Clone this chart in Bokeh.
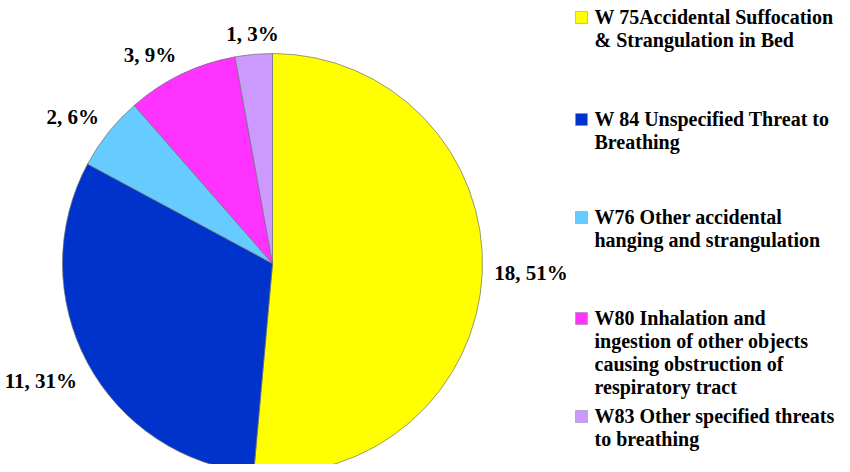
import math
from bokeh.plotting import figure
from bokeh.models import Range1d, ColumnDataSource
from bokeh.core.properties import value
from bokeh.embed import file_html
from bokeh.resources import INLINE

# ---- data ----
categories = [
    "W 75Accidental Suffocation\n& Strangulation in Bed",
    "W 84 Unspecified Threat to\nBreathing",
    "W76 Other accidental\nhanging and strangulation",
    "W80 Inhalation and\ningestion of other objects\ncausing obstruction of\nrespiratory tract",
    "W83 Other specified threats\nto breathing",
]
counts = [18, 11, 2, 3, 1]
colors = ["#FFFF00", "#0033CC", "#66CCFF", "#FF33FF", "#CC99FF"]

# ---- layout (screen px, relative to figure's top-left) ----
W, H = 842, 464
CX, CY, R = 272, 263, 210
FONT = value("Liberation Serif")
FS = "20px"


def sy(y):
    # screen y (down) -> data y (up)
    return H - y


p = figure(width=W, height=H, output_backend="svg", toolbar_location=None,
           x_range=Range1d(0, W), y_range=Range1d(0, H),
           x_axis_location=None, y_axis_location=None, min_border=0)
p.grid.visible = False
p.outline_line_color = None
p.background_fill_color = "white"
p.border_fill_color = "white"

total = sum(counts)
starts, ends, mids = [], [], []
cum = 0
for c in counts:
    a0 = math.pi / 2 - 2 * math.pi * cum / total
    cum += c
    a1 = math.pi / 2 - 2 * math.pi * cum / total
    starts.append(a0)
    ends.append(a1)
    mids.append((a0 + a1) / 2)

src = ColumnDataSource(dict(start=starts, end=ends, color=colors))
p.wedge(x=CX, y=sy(CY), radius=R, start_angle="start", end_angle="end",
        direction="clock", fill_color="color", line_color="#707070",
        line_width=0.7, source=src)

# data labels
lx, ly, ltext, lalign, lbase = [], [], [], [], []
rr = R + 12
for c, m in zip(counts, mids):
    cx, cy = math.cos(m), math.sin(m)
    base = "bottom" if cy > 0.3 else ("top" if cy < -0.3 else "middle")
    lx.append(CX + rr * cx)
    ly.append(sy(CY) + rr * cy - (4 if base == "bottom" else 0))
    ltext.append(f"{c}, {round(100 * c / total)}%")
    lalign.append("center" if abs(cx) < 0.3 else ("left" if cx > 0 else "right"))
    lbase.append(base)
p.text(x=lx, y=ly, text=ltext, text_align=lalign, text_baseline=lbase,
       text_font=FONT, text_font_style="bold", text_font_size="21px",
       text_color="black")

# legend
leg_y = [17, 119, 217, 318, 416]
p.rect(x=[581] * 5, y=[sy(v) for v in leg_y], width=12, height=12,
       fill_color=colors, line_color="#888888", line_width=0.5)
p.text(x=[594] * 5, y=[sy(v - 12) for v in leg_y], text=categories,
       text_align="left", text_baseline="top", text_font=FONT,
       text_font_style="bold", text_font_size=FS, text_line_height=1.05,
       text_color="black")

open("out.html", "w").write(file_html(p, INLINE))
